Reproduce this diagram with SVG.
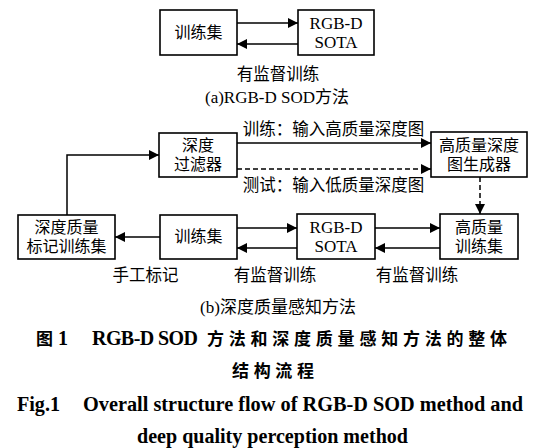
<svg xmlns="http://www.w3.org/2000/svg" width="550" height="448" viewBox="0 0 550 448">
<defs>
<marker id="ah" viewBox="0 0 10 10" refX="10" refY="5" markerWidth="10" markerHeight="10" markerUnits="userSpaceOnUse" orient="auto">
<path d="M0,0 L10,5 L0,10 z" fill="#000"/>
</marker>
</defs>
<style>
.box{fill:#fff;stroke:#000;stroke-width:1.6}
.t{font-family:"Liberation Serif","Noto Sans CJK SC",serif;font-size:16px;fill:#000;text-anchor:middle}
.lb{font-size:16.5px}
.sub{font-size:17px}
.lat{font-family:"Liberation Serif",serif;font-size:17px}
.ln{stroke:#000;stroke-width:1.5;fill:none}
.ds{stroke-dasharray:5,3}
.capz{font-family:"Noto Sans CJK SC",sans-serif;font-weight:bold;font-size:17px;fill:#000}
.cape{font-family:"Liberation Serif",serif;font-weight:bold;font-size:20px;fill:#000}
</style>
<rect width="550" height="448" fill="#fff"/>
<g id="a-train"><rect class="box" x="160" y="10" width="77" height="45"/><text class="t" x="198.5" y="38">训练集</text></g>
<g id="a-sota"><rect class="box" x="298" y="10" width="76" height="45"/><text class="t lat" x="336" y="29">RGB-D</text><text class="t lat" x="336" y="48">SOTA</text></g>
<g id="b-filter"><rect class="box" x="159" y="133" width="78" height="44"/><text class="t" x="198" y="151">深度</text><text class="t" x="198" y="170">过滤器</text></g>
<g id="b-gen"><rect class="box" x="431" y="132" width="96" height="45"/><text class="t" x="479" y="151">高质量深度</text><text class="t" x="479" y="170">图生成器</text></g>
<g id="b-label"><rect class="box" x="18" y="215" width="97" height="44"/><text class="t" x="66.5" y="233">深度质量</text><text class="t" x="66.5" y="252">标记训练集</text></g>
<g id="b-train"><rect class="box" x="160" y="215" width="77" height="44"/><text class="t" x="198.5" y="242">训练集</text></g>
<g id="b-sota"><rect class="box" x="297" y="214" width="78" height="45"/><text class="t lat" x="336" y="233">RGB-D</text><text class="t lat" x="336" y="252">SOTA</text></g>
<g id="b-hq"><rect class="box" x="440" y="214" width="78" height="45"/><text class="t" x="479" y="233">高质量</text><text class="t" x="479" y="252">训练集</text></g>
<g id="connectors">
<line class="ln" x1="237" y1="23" x2="298" y2="23" marker-end="url(#ah)"/>
<line class="ln" x1="298" y1="44" x2="237" y2="44" marker-end="url(#ah)"/>
<line class="ln" x1="237" y1="143" x2="431" y2="143" marker-end="url(#ah)"/>
<line class="ln ds" x1="237" y1="169" x2="431" y2="169" marker-end="url(#ah)"/>
<line class="ln ds" x1="480" y1="177" x2="480" y2="214" marker-end="url(#ah)"/>
<line class="ln" x1="375" y1="228" x2="440" y2="228" marker-end="url(#ah)"/>
<line class="ln" x1="440" y1="248" x2="375" y2="248" marker-end="url(#ah)"/>
<line class="ln" x1="237" y1="228" x2="297" y2="228" marker-end="url(#ah)"/>
<line class="ln" x1="297" y1="248" x2="237" y2="248" marker-end="url(#ah)"/>
<line class="ln" x1="160" y1="237" x2="115" y2="237" marker-end="url(#ah)"/>
<polyline class="ln" points="67,215 67,155 159,155" marker-end="url(#ah)"/>
</g>
<g id="labels">
<text class="t lb" x="278" y="80">有监督训练</text>
<text class="t sub" x="277" y="103"><tspan class="lat">(a)RGB-D SOD</tspan>方法</text>
<text class="t lb" x="333.5" y="135">训练：输入高质量深度图</text>
<text class="t lb" x="333.5" y="191">测试：输入低质量深度图</text>
<text class="t lb" x="145.5" y="281">手工标记</text>
<text class="t lb" x="275" y="281">有监督训练</text>
<text class="t lb" x="417" y="281">有监督训练</text>
<text class="t sub" x="278" y="313"><tspan class="lat">(b)</tspan>深度质量感知方法</text>
</g>
<g id="caption">
<text class="capz" x="36" y="345">图</text>
<text class="cape" x="58" y="345" font-size="18">1</text>
<text class="cape" x="92" y="345" font-size="18" textLength="106" lengthAdjust="spacing">RGB-D SOD</text>
<text class="capz" x="207" y="345" textLength="300" lengthAdjust="spacing">方法和深度质量感知方法的整体</text>
<text class="capz" x="232" y="377" textLength="82" lengthAdjust="spacing">结构流程</text>
<text class="cape" x="17" y="411" textLength="43" lengthAdjust="spacingAndGlyphs">Fig.1</text>
<text class="cape" x="83" y="411" textLength="440" lengthAdjust="spacingAndGlyphs">Overall structure flow of RGB-D SOD method and</text>
<text class="cape" x="137" y="443" textLength="271" lengthAdjust="spacingAndGlyphs">deep quality perception method</text>
</g>
</svg>
